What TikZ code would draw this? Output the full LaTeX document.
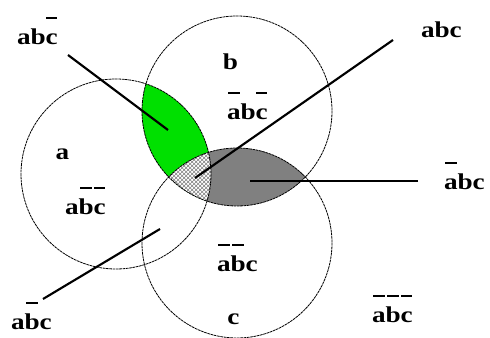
\documentclass[tikz,border=0pt]{standalone}
\usepackage{fontspec}
\usepackage{graphicx}
\setmainfont{Liberation Serif}
\newfontfamily\lblfont{Liberation Serif Bold}
\usetikzlibrary{patterns}
\definecolor{vgreen}{RGB}{0,224,0}
\definecolor{vgray}{RGB}{128,128,128}
\newcommand{\nt}[1]{\mbox{\ooalign{#1\cr\hidewidth\raisebox{1.15em}{\rule{0.42em}{1.8pt}}\hidewidth\cr}}}
\newcommand{\wide}[1]{\scalebox{1.2}[1]{\kern0.5pt#1}}

\begin{document}
\begin{tikzpicture}[x=0.75pt,y=-0.75pt,
  lbl/.style={font=\lblfont\fontsize{17}{19}\selectfont,inner sep=0pt,anchor=base},
  ring/.style={line width=0.6pt,dash pattern=on 2pt off 0.5pt},
  leader/.style={line width=1.6pt}]
\useasboundingbox (0,0) rectangle (490,338);
\def\ra{95}
\coordinate (ca) at (116,174);
\coordinate (cb) at (237,111);
\coordinate (cc) at (237,243);

% a and b
\begin{scope}
  \clip (ca) circle (\ra);
  \fill[vgreen] (cb) circle (\ra);
\end{scope}
% b and c
\begin{scope}
  \clip (cb) circle (\ra);
  \fill[vgray] (cc) circle (\ra);
\end{scope}
% a, b and c
\begin{scope}
  \clip (ca) circle (\ra);
  \clip (cb) circle (\ra);
  \fill[white] (cc) circle (\ra);
  \fill[pattern=crosshatch,pattern color=gray] (cc) circle (\ra);
\end{scope}

\draw[ring] (ca) circle (\ra);
\draw[ring] (cb) circle (\ra);
\draw[ring] (cc) circle (\ra);

% set names
\node[lbl] (na) at (62,160) {\wide{a}};
\node[lbl] (nb) at (230,70) {\wide{b}};
\node[lbl] (nc) at (233,325) {\wide{c}};

% regions inside
\node[lbl] (aonly) at (85,215) {\wide{a\nt{b}\nt{c}}};
\node[lbl] (bonly) at (247,120) {\wide{\nt{a}b\nt{c}}};
\node[lbl] (conly) at (237,272) {\wide{\nt{a}\nt{b}c}};
\node[lbl] (none) at (392,323) {\wide{\nt{a}\nt{b}\nt{c}}};

% regions with leaders
\node[lbl] (abnc) at (37,45) {\wide{ab\nt{c}}};
\node[lbl] (abc) at (441,38) {\wide{abc}};
\node[lbl] (nabc) at (464,190) {\wide{\nt{a}bc}};
\node[lbl] (anbc) at (31,330) {\wide{a\nt{b}c}};

\coordinate (abnc0) at (68,55);   \coordinate (abnc1) at (168,130);
\coordinate (abc0) at (393,40);   \coordinate (abc1) at (195,178);
\coordinate (nabc0) at (418,181); \coordinate (nabc1) at (250,181);
\coordinate (anbc0) at (43,299);  \coordinate (anbc1) at (160,229);

\draw[leader] (abnc0) -- (abnc1);
\draw[leader] (abc0) -- (abc1);
\draw[leader] (nabc0) -- (nabc1);
\draw[leader] (anbc0) -- (anbc1);
\end{tikzpicture}
\end{document}
